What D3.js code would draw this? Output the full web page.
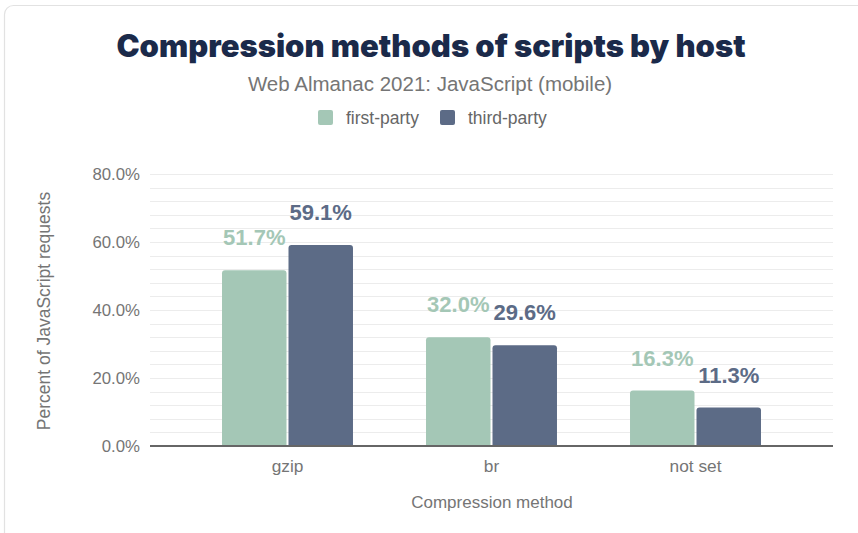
<!DOCTYPE html>
<html>
<head>
<meta charset="utf-8">
<script src="https://cdn.jsdelivr.net/npm/d3@7"></script>
<style>
  html, body { margin: 0; padding: 0; background: #fff; }
  svg { display: block; }
</style>
</head>
<body>
<svg id="chart" width="858" height="533"></svg>
<script>
// Share of JavaScript requests per compression method, split by host type
const methods = ["gzip", "br", "not set"];
const seriesNames = ["first-party", "third-party"];
const firstParty = [51.7, 32.0, 16.3];
const thirdParty = [59.1, 29.6, 11.3];
const yTicks = [0, 20, 40, 60, 80];
const seriesColors = ["#a4c7b6", "#5c6b86"];

const svg = d3.select("#chart");
const W = 858, H = 533;
const plot = { left: 150, right: 833, top: 174, bottom: 446 };
const sans = "'Liberation Sans', Arial, sans-serif";

// card outline
svg.append("rect")
  .attr("x", 4.5).attr("y", 5.5)
  .attr("width", W + 20).attr("height", H + 20)
  .attr("rx", 9)
  .attr("fill", "#fff")
  .attr("stroke", "#e2e2e2")
  .attr("stroke-width", 1.2);

// title & subtitle
svg.append("text")
  .attr("x", 431).attr("y", 57)
  .attr("text-anchor", "middle")
  .attr("font-family", "Inter, 'Open Sans', sans-serif")
  .attr("font-weight", 900)
  .attr("font-size", 31)
  .attr("fill", "#1b2a4a")
  .text("Compression methods of scripts by host");

svg.append("text")
  .attr("x", 430).attr("y", 91)
  .attr("text-anchor", "middle")
  .attr("font-family", sans)
  .attr("font-size", 20.5)
  .attr("fill", "#757575")
  .text("Web Almanac 2021: JavaScript (mobile)");

// legend
const legendItems = [
  { name: seriesNames[0], color: seriesColors[0], x: 318 },
  { name: seriesNames[1], color: seriesColors[1], x: 440 }
];
const lg = svg.append("g").attr("class", "legend");
legendItems.forEach(d => {
  lg.append("rect")
    .attr("x", d.x).attr("y", 110)
    .attr("width", 15).attr("height", 15)
    .attr("rx", 2)
    .attr("fill", d.color);
  lg.append("text")
    .attr("x", d.x + 28).attr("y", 124)
    .attr("font-family", sans)
    .attr("font-size", 17.5)
    .attr("fill", "#666")
    .text(d.name);
});

// scales
const y = d3.scaleLinear().domain([0, 80]).range([plot.bottom, plot.top]);
const x0 = d3.scaleBand().domain(methods).range([plot.left, plot.right])
  .paddingInner(0.358).paddingOuter(0.353);
const x1 = d3.scaleBand().domain(seriesNames).range([0, x0.bandwidth()]).paddingInner(0.03);

// gridlines every 4%
const gridVals = d3.range(4, 81, 4);
svg.append("g").selectAll("line")
  .data(gridVals)
  .join("line")
  .attr("x1", plot.left).attr("x2", plot.right)
  .attr("y1", d => Math.round(y(d)) + 0.5).attr("y2", d => Math.round(y(d)) + 0.5)
  .attr("stroke", "#ececec")
  .attr("stroke-width", 1);

// y axis labels
const yAxis = svg.append("g")
  .attr("transform", `translate(${plot.left},0)`)
  .call(d3.axisLeft(y).tickValues(yTicks).tickFormat(d => d.toFixed(1) + "%").tickSize(0).tickPadding(10));
yAxis.select(".domain").remove();
yAxis.selectAll("text")
  .attr("font-family", sans)
  .attr("font-size", 16.8)
  .attr("fill", "#757575");

// bars
const rows = methods.map((m, i) => ({ method: m, values: [firstParty[i], thirdParty[i]] }));
const groups = svg.append("g").selectAll("g")
  .data(rows)
  .join("g")
  .attr("transform", d => `translate(${x0(d.method)},0)`);

groups.selectAll("path")
  .data(d => d.values.map((v, j) => ({ key: seriesNames[j], v, j })))
  .join("path")
  .attr("fill", d => seriesColors[d.j])
  .attr("d", d => {
    const bx = x1(d.key), bw = x1.bandwidth();
    const top = y(d.v), bot = y(0), r = 3;
    return `M${bx},${bot}V${top + r}Q${bx},${top} ${bx + r},${top}H${bx + bw - r}Q${bx + bw},${top} ${bx + bw},${top + r}V${bot}Z`;
  });

// value labels
groups.selectAll("text")
  .data(d => d.values.map((v, j) => ({ key: seriesNames[j], v, j })))
  .join("text")
  .attr("x", d => x1(d.key) + x1.bandwidth() / 2)
  .attr("y", d => y(d.v) - 25)
  .attr("text-anchor", "middle")
  .attr("font-family", sans)
  .attr("font-weight", "bold")
  .attr("font-size", 22)
  .attr("fill", d => seriesColors[d.j])
  .text(d => d.v.toFixed(1) + "%");

// x axis
const xAxis = svg.append("g")
  .attr("transform", `translate(0,${plot.bottom})`)
  .call(d3.axisBottom(x0).tickSize(0).tickPadding(14));
xAxis.select(".domain").remove();
xAxis.selectAll("text")
  .attr("font-family", sans)
  .attr("font-size", 17.3)
  .attr("fill", "#757575");
svg.append("line")
  .attr("x1", plot.left).attr("x2", plot.right)
  .attr("y1", plot.bottom).attr("y2", plot.bottom)
  .attr("stroke", "#666").attr("stroke-width", 2);

// axis titles
svg.append("text")
  .attr("x", 492).attr("y", 508)
  .attr("text-anchor", "middle")
  .attr("font-family", sans)
  .attr("font-size", 17)
  .attr("fill", "#757575")
  .text("Compression method");

svg.append("text")
  .attr("transform", "translate(50,311) rotate(-90)")
  .attr("text-anchor", "middle")
  .attr("font-family", sans)
  .attr("font-size", 17.5)
  .attr("fill", "#757575")
  .text("Percent of JavaScript requests");
</script>
</body>
</html>
